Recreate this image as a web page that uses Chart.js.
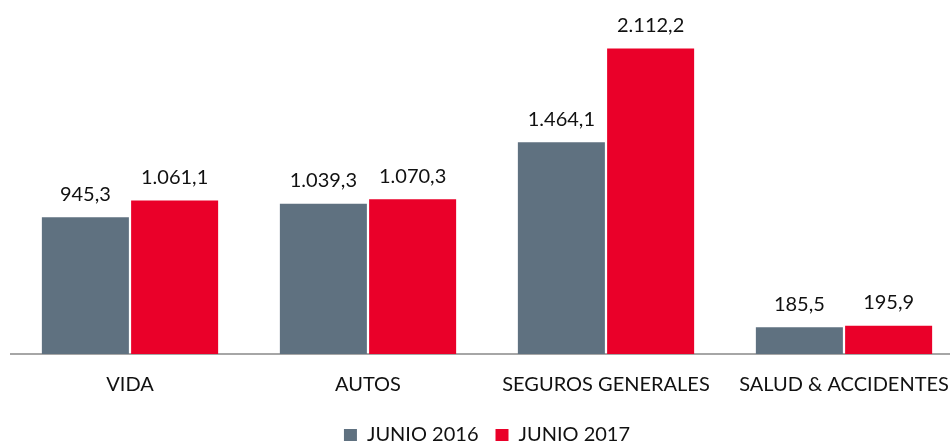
<!DOCTYPE html>
<html>
<head>
<meta charset="utf-8">
<script src="https://cdn.jsdelivr.net/npm/chart.js@4"></script>
<style>
  html, body { margin: 0; padding: 0; background: #fff; overflow: hidden; }
  #wrap { width: 965px; height: 441px; }
</style>
</head>
<body>
<div id="wrap"><canvas id="grafico"></canvas></div>
<script>
const categorias = ["VIDA", "AUTOS", "SEGUROS GENERALES", "SALUD & ACCIDENTES"];
const series = ["JUNIO 2016", "JUNIO 2017"];
const valores2016 = [945.3, 1039.3, 1464.1, 185.5];
const valores2017 = [1061.1, 1070.3, 2112.2, 195.9];
const cores = ["#5f7180", "#ea0029"];

// formato 1.234,5
function formatar(v) {
    const [inteiro, dec] = v.toFixed(1).split(".");
    return inteiro.replace(/\B(?=(\d{3})+(?!\d))/g, ".") + "," + dec;
}

const rotulosBarras = {
    id: "rotulosBarras",
    afterDatasetsDraw(chart) {
        const ctx = chart.ctx;
        ctx.save();
        ctx.font = "20px Lato";
        ctx.fillStyle = "#111";
        ctx.textAlign = "center";
        ctx.textBaseline = "middle";
        chart.data.datasets.forEach((ds, i) => {
            chart.getDatasetMeta(i).data.forEach((bar, j) => {
                ctx.fillText(formatar(ds.data[j]), bar.x, bar.y - 23);
            });
        });
        ctx.restore();
    }
};

new Chart(document.getElementById("grafico"), {
    type: "bar",
    data: {
        labels: categorias,
        datasets: [
            { label: series[0], data: valores2016, backgroundColor: cores[0] },
            { label: series[1], data: valores2017, backgroundColor: cores[1] }
        ]
    },
    options: {
        responsive: true,
        maintainAspectRatio: false,
        animation: false,
        categoryPercentage: 0.75,
        barPercentage: 0.975,
        layout: { padding: { left: 11, right: 2, top: 7, bottom: -14 } },
        scales: {
            x: {
                grid: { display: false },
                border: { color: "#a6a6a6", width: 2 },
                ticks: { color: "#111", font: { family: "Lato", size: 20 }, padding: 11, maxRotation: 0 }
            },
            y: { display: false, min: 0, max: 2400 }
        },
        plugins: {
            legend: {
                position: "bottom",
                labels: {
                    color: "#111",
                    font: { family: "Lato", size: 20 },
                    boxWidth: 13,
                    boxHeight: 12,
                    padding: 17
                }
            },
            tooltip: { enabled: false }
        }
    },
    plugins: [rotulosBarras]
});
</script>
</body>
</html>
